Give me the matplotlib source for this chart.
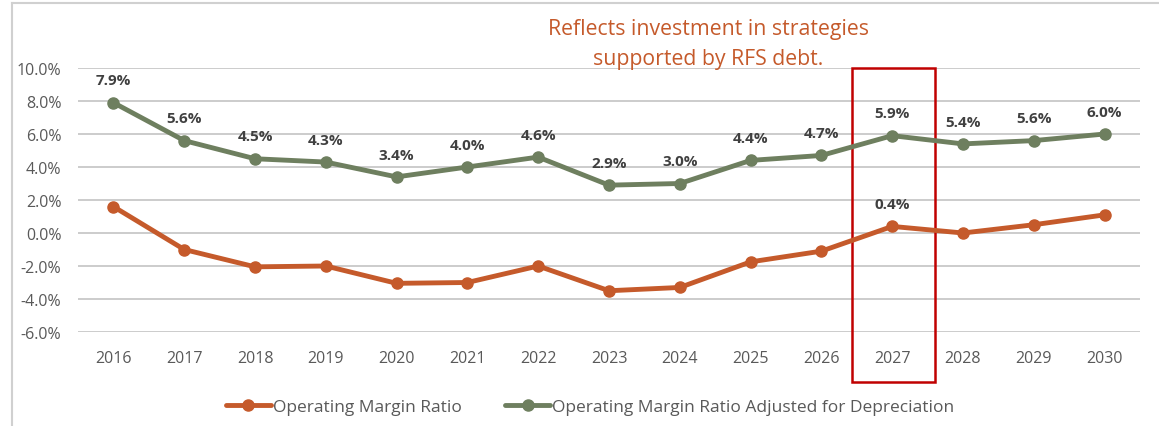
import matplotlib.pyplot as plt
import matplotlib.lines as mlines
import matplotlib.patches as mpatches
import numpy as np

years = [2016, 2017, 2018, 2019, 2020, 2021, 2022, 2023, 2024, 2025, 2026, 2027, 2028, 2029, 2030]
op_margin = [1.6, -1.0, -2.05, -2.0, -3.05, -3.0, -2.0, -3.5, -3.3, -1.75, -1.1, 0.4, 0.0, 0.5, 1.1]
op_margin_adj = [7.9, 5.6, 4.5, 4.3, 3.4, 4.0, 4.6, 2.9, 3.0, 4.4, 4.7, 5.9, 5.4, 5.6, 6.0]
yticks = [-6, -4, -2, 0, 2, 4, 6, 8, 10]

orange = '#C55A2B'
green = '#6E7F5F'
grid_c = '#C8C8C8'
txt_c = '#595959'

plt.rcParams['font.family'] = ['Open Sans', 'DejaVu Sans']

fig = plt.figure(figsize=(11.59, 4.27), dpi=100)
ax = fig.add_axes([78/1159, 1-333/427, (1140-78)/1159, (333-69)/427])

x = np.arange(len(years))
ax.plot(x, op_margin, color=orange, lw=3.5, marker='o', ms=8, label='Operating Margin Ratio', solid_capstyle='round')
ax.plot(x, op_margin_adj, color=green, lw=3.5, marker='o', ms=8,
        label='Operating Margin Ratio Adjusted for Depreciation', solid_capstyle='round')

for xi, v in zip(x, op_margin_adj):
    ax.annotate(f'{v:.1f}%', (xi, v), xytext=(0, 11), textcoords='offset points',
                ha='center', va='bottom', fontsize=11, fontweight='bold', color='#404040')
ax.annotate(f'{op_margin[11]:.1f}%', (x[11], op_margin[11]), xytext=(0, 11), textcoords='offset points',
            ha='center', va='bottom', fontsize=11, fontweight='bold', color='#404040')

ax.set_xlim(-0.5, len(years) - 0.5)
ax.set_ylim(-6, 10)
ax.set_yticks(yticks)
ax.set_yticklabels([f'{t:.1f}%' for t in yticks])
ax.set_xticks(x)
ax.set_xticklabels([str(y) for y in years])
ax.tick_params(length=0, labelsize=11.5, labelcolor=txt_c)
ax.tick_params(axis='x', pad=13)
ax.tick_params(axis='y', pad=12)
ax.grid(axis='y', color=grid_c, lw=1.3)
ax.set_axisbelow(True)
for s in ax.spines.values():
    s.set_visible(False)

# highlight box around 2027
rect = mpatches.Rectangle((10.43, 10), 1.18, -(10 + 6) * (383 - 69) / (333 - 69),
                          fill=False, edgecolor='#C00000', lw=1.8, clip_on=False)
ax.add_patch(rect)

fig.text(708/1159, 1-29/427, 'Reflects investment in strategies', ha='center', va='center',
         fontsize=15.3, color=orange)
fig.text(708/1159, 1-60/427, 'supported by RFS debt.', ha='center', va='center',
         fontsize=15.3, color=orange)

# chart frame
fig.add_artist(mlines.Line2D([12/1159, 1], [1-4/427, 1-4/427], color='#D0D0D0', lw=1.5))
fig.add_artist(mlines.Line2D([12/1159, 12/1159], [0, 1-4/427], color='#D0D0D0', lw=1.5))

leg = fig.legend(loc='center', bbox_to_anchor=(590/1159, 1-408/427), ncol=2, frameon=False,
                 fontsize=12.5, handlelength=2.6, handletextpad=0.1, columnspacing=2.5)
for t in leg.get_texts():
    t.set_color(txt_c)

plt.savefig('out.png', dpi=100)
